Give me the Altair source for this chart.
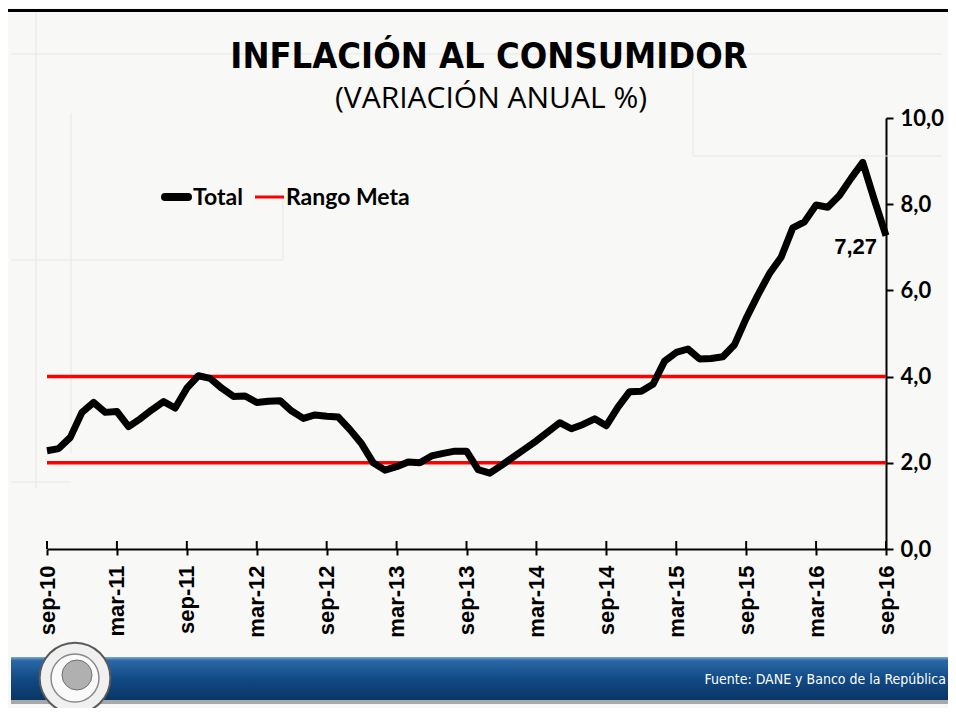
import json
import altair as alt
import pandas as pd

# ---------------- data ----------------
inflacion_total = [
    2.28, 2.33, 2.59, 3.17,                                            # sep-dic 2010
    3.40, 3.17, 3.19, 2.84, 3.02, 3.23, 3.42, 3.27, 3.73, 4.02, 3.96, 3.73,  # 2011
    3.54, 3.55, 3.40, 3.43, 3.44, 3.20, 3.03, 3.11, 3.08, 3.06, 2.77, 2.44,  # 2012
    2.00, 1.83, 1.91, 2.02, 2.00, 2.16, 2.22, 2.27, 2.27, 1.84, 1.76, 1.94,  # 2013
    2.13, 2.32, 2.51, 2.72, 2.93, 2.79, 2.89, 3.02, 2.86, 3.29, 3.65, 3.66,  # 2014
    3.82, 4.36, 4.56, 4.64, 4.41, 4.42, 4.46, 4.74, 5.35, 5.89, 6.39, 6.77,  # 2015
    7.45, 7.59, 7.98, 7.93, 8.20, 8.60, 8.97, 8.10, 7.27,                    # ene-sep 2016
]
etiquetas_x = ["sep-10", "mar-11", "sep-11", "mar-12", "sep-12", "mar-13", "sep-13",
               "mar-14", "sep-14", "mar-15", "sep-15", "mar-16", "sep-16"]
posiciones_x = [0, 6, 12, 18, 24, 30, 36, 42, 48, 54, 60, 66, 72]
rango_meta = [2.0, 4.0]
ticks_y = [0, 2, 4, 6, 8, 10]
series = ["Total", "Rango Meta"]
titulo = "INFLACIÓN AL CONSUMIDOR"
subtitulo = "(VARIACIÓN ANUAL %)"
fuente = "Fuente: DANE y Banco de la República"

# ---------------- layout ----------------
W, H = 839, 431
RIGHT_EDGE = 901   # svg right edge in plot coordinates
BOTTOM_EDGE = 590  # svg bottom edge in plot coordinates
one = pd.DataFrame({"k": [0]})
TITLE_FONT = "DejaVu Sans Condensed"
SUB_FONT = "Open Sans"
LEG_FONT = "Lato"

df = pd.DataFrame({"mes": list(range(len(inflacion_total))), "valor": inflacion_total})
df_meta = pd.DataFrame({"meta": rango_meta})
df_ticks = pd.DataFrame({"pos": posiciones_x})
df_last = pd.DataFrame({"mes": [len(inflacion_total) - 1], "valor": [inflacion_total[-1]],
                        "txt": [f"{inflacion_total[-1]:.2f}".replace(".", ",")]})

xscale = alt.Scale(domain=[0, 72], nice=False, zero=False)
yscale = alt.Scale(domain=[0, 10], nice=False)

x_axis = alt.Axis(values=posiciones_x,
                  labelExpr=json.dumps(etiquetas_x) + "[round(datum.value/6)]",
                  labelAngle=270, grid=False, title=None)
y_axis = alt.Axis(values=ticks_y, orient="right",
                  labelExpr="replace(format(datum.value, '.1f'), '.', ',')",
                  grid=False, title=None)

# ---------------- decorations ----------------
# top frame line drawn as a wide text-free rect, ending inside the canvas
frame_top = alt.Chart(one).mark_rule(color="black", strokeWidth=3).encode(
    x=alt.value(-39), x2=alt.value(RIGHT_EDGE), y=alt.value(-107.5), y2=alt.value(-107.5))

faint = []
for (x1, x2, y1, y2) in [(-11, -11, -106, 370), (24, 24, -5, 335), (-36, 895, -64, -64),
                         (-36, 236, 142, 142), (236, 236, 80, 142), (646, 646, -50, 38),
                         (646, 895, 38, 38), (-36, 24, 364, 364)]:
    faint.append(alt.Chart(one).mark_rule(color="#e6e6e6", strokeWidth=1).encode(
        x=alt.value(x1), x2=alt.value(x2), y=alt.value(y1), y2=alt.value(y2)))

banner_grad = alt.LinearGradient(
    gradient="linear", x1=0, x2=0, y1=0, y2=1,
    stops=[alt.GradientStop(color="#7eaad2", offset=0),
           alt.GradientStop(color="#2a69a6", offset=0.08),
           alt.GradientStop(color="#124a85", offset=0.5),
           alt.GradientStop(color="#0a3566", offset=1)])
shadow = alt.Chart(one).mark_rect(color="#a8a8a8").encode(
    x=alt.value(-36), x2=alt.value(RIGHT_EDGE), y=alt.value(581), y2=alt.value(586))
banner = alt.Chart(one).mark_rect(fill=banner_grad).encode(
    x=alt.value(-36), x2=alt.value(RIGHT_EDGE), y=alt.value(539), y2=alt.value(582))
fuente_txt = alt.Chart(one).mark_text(text=fuente, align="right", baseline="middle",
                                      color="white", font=TITLE_FONT, fontSize=14).encode(
    x=alt.value(899), y=alt.value(562))
logo_out = alt.Chart(one).mark_circle(size=5000, color="#f0f0f0", opacity=1,
                                      stroke="#5a5a5a", strokeWidth=2).encode(
    x=alt.value(28), y=alt.value(560))
logo_in = alt.Chart(one).mark_circle(size=2300, color="#fafafa", opacity=1,
                                     stroke="#8a8a8a", strokeWidth=1.5).encode(
    x=alt.value(28), y=alt.value(560))
logo_head = alt.Chart(one).mark_circle(size=900, color="#b0b0b0", opacity=1,
                                       stroke="#707070", strokeWidth=1).encode(
    x=alt.value(30), y=alt.value(557))

title_txt = alt.Chart(one).mark_text(text=titulo, align="center", baseline="alphabetic",
                                     font=TITLE_FONT, fontWeight="bold", fontSize=36,
                                     color="black").encode(
    x=alt.value(442), y=alt.value(-50))
sub_txt = alt.Chart(one).mark_text(text=subtitulo, align="center", baseline="alphabetic",
                                   font=SUB_FONT, fontSize=30, color="black").encode(
    x=alt.value(444), y=alt.value(-10))

leg_total_line = alt.Chart(one).mark_rule(color="black", strokeWidth=8, strokeCap="round").encode(
    x=alt.value(118), x2=alt.value(141), y=alt.value(79))
leg_total_txt = alt.Chart(one).mark_text(text=series[0], align="left", baseline="alphabetic",
                                         font=LEG_FONT, fontWeight="bold", fontSize=23,
                                         color="black").encode(
    x=alt.value(146), y=alt.value(87))
leg_meta_line = alt.Chart(one).mark_rule(color="#ff0000", strokeWidth=3).encode(
    x=alt.value(208), x2=alt.value(237), y=alt.value(79))
leg_meta_txt = alt.Chart(one).mark_text(text=series[1], align="left", baseline="alphabetic",
                                        font=LEG_FONT, fontWeight="bold", fontSize=23,
                                        color="black").encode(
    x=alt.value(239), y=alt.value(87))

# ---------------- data layers ----------------
line = alt.Chart(df).mark_line(color="black", strokeWidth=7, strokeJoin="round",
                               strokeCap="butt").encode(
    x=alt.X("mes:Q", scale=xscale, axis=x_axis),
    y=alt.Y("valor:Q", scale=yscale, axis=y_axis))
meta = alt.Chart(df_meta).mark_rule(color="#ff0000", strokeWidth=3.5).encode(
    y=alt.Y("meta:Q", scale=yscale, axis=y_axis), x=alt.value(0), x2=alt.value(W))
up_ticks = alt.Chart(df_ticks).mark_rule(color="black", strokeWidth=2).encode(
    x=alt.X("pos:Q", scale=xscale, axis=x_axis), y=alt.value(H - 8), y2=alt.value(H))
last_lbl = alt.Chart(df_last).mark_text(align="right", baseline="top", dx=-9, dy=1,
                                        font="Liberation Sans", fontWeight="bold",
                                        fontSize=22, color="black").encode(
    x=alt.X("mes:Q", scale=xscale, axis=x_axis),
    y=alt.Y("valor:Q", scale=yscale, axis=y_axis), text="txt:N")

chart = alt.layer(
    *faint, frame_top, shadow, banner, fuente_txt,
    logo_out, logo_in, logo_head,
    title_txt, sub_txt, leg_total_line, leg_total_txt, leg_meta_line, leg_meta_txt,
    meta, line, up_ticks, last_lbl
).properties(
    width=W, height=H,
    padding={"left": 39, "top": 110, "right": 62, "bottom": 159},
    autosize=alt.AutoSizeParams(type="none"),
    background="#f8f8f6",
).configure_view(
    strokeWidth=0
).configure_axisX(
    labelFont="Liberation Sans", labelFontWeight="bold", labelFontSize=22,
    labelColor="black", tickSize=6, tickColor="black", tickWidth=2,
    domainColor="black", domainWidth=2, labelPadding=10
).configure_axisY(
    labelFont=LEG_FONT, labelFontWeight="bold", labelFontSize=22, labelColor="black",
    tickSize=7, tickColor="black", tickWidth=2, domainColor="black", domainWidth=2,
    labelPadding=7, labelBaseline="middle"
)

chart.save("out.html", embed_options={"renderer": "svg", "actions": False})
